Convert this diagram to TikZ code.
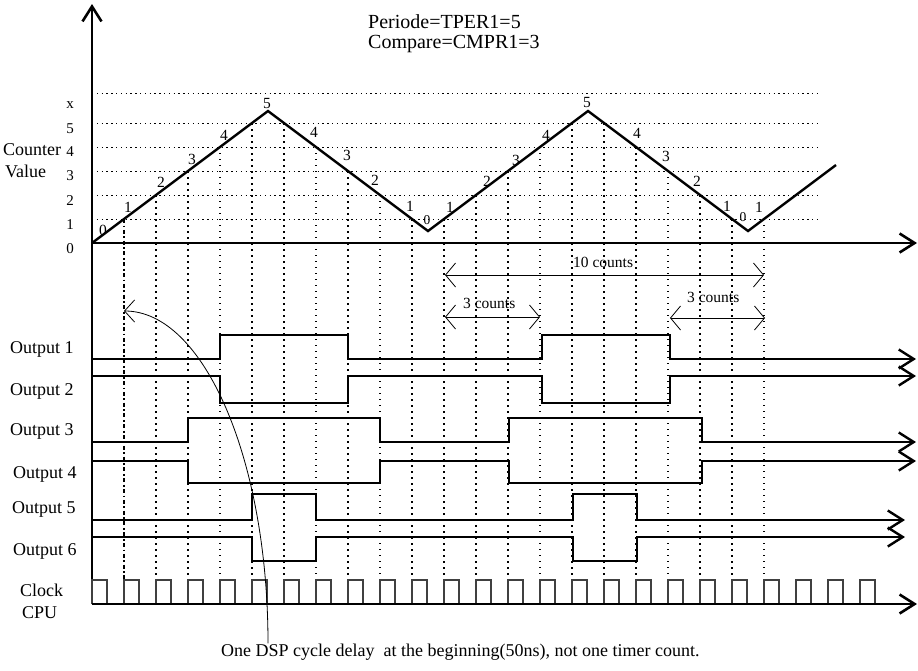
\documentclass[tikz,border=0pt]{standalone}
\usepackage{fontspec}
\setmainfont{Liberation Serif}
\usetikzlibrary{arrows.meta}

\begin{document}
\begin{tikzpicture}[
  x=1pt, y=-1pt,
  font=\fontsize{18}{21}\selectfont,
  lbl/.style={inner sep=0pt, anchor=base west},
  tick/.style={inner sep=0pt, anchor=base, font=\fontsize{15}{17}\selectfont},
  cnt/.style={inner sep=0pt, font=\fontsize{15.5}{17}\selectfont},
  axis/.style={line width=2.6pt, -{Straight Barb[length=15pt,width=19pt]}},
  wave/.style={line width=2.4pt, line join=miter},
  wavearr/.style={wave, -{Straight Barb[length=15pt,width=19pt]}},
  hgrid/.style={line width=1pt, dash pattern=on 1.3pt off 3.5pt},
  vgrid/.style={line width=2.1pt, dash pattern=on 2pt off 4pt},
  vthin/.style={line width=1.2pt, dash pattern=on 1.4pt off 4.6pt},
  vdash/.style={line width=1.8pt, dash pattern=on 4pt off 2.5pt on 1.8pt off 2.5pt},
  pulse/.style={line width=1.2pt, black!75},
  span/.style={line width=0.8pt, {Straight Barb[length=10pt,width=24pt]}-{Straight Barb[length=10pt,width=24pt]}},
  delay/.style={line width=0.8pt, -{Straight Barb[length=10pt,width=22pt]}}
]
\useasboundingbox (0,0) rectangle (918,670);

\node[lbl, font=\fontsize{20}{22}\selectfont] (per) at (368,28) {Periode=TPER1=5};
\node[lbl, font=\fontsize{20}{22}\selectfont] (cmpr) at ([yshift=-20pt]per.base west) {Compare=CMPR1=3};

% counter grid
\foreach \y in {93,123,147,171,195,219}
  \draw[hgrid] (92,\y) -- (818,\y);
\foreach \k/\s in {1/vdash,2/vgrid,3/vgrid,4/vthin,5/vgrid,6/vgrid,7/vthin,8/vgrid,9/vthin,10/vgrid,11/vgrid,
                   12/vgrid,13/vgrid,14/vthin,15/vgrid,16/vgrid,17/vgrid,18/vthin,19/vgrid,20/vgrid,21/vthin} {
  \pgfmathsetmacro\v{5.5-abs(mod(\k-0.5,10)-5)}
  \pgfmathsetmacro\e{\k==1 ? 596 : 580}
  \draw[\s] (92+32*\k,243-24*\v) -- (92+32*\k,\e);
}

\coordinate (O) at (92,243);
\draw[axis] (92,604) -- (92,4);
\draw[axis] (O) -- (917,243);
\draw[wave] (O) -- (268,111) -- (428,231) -- (588,111) -- (748,231) -- (836,165);

\node[lbl] (cntr) at (3,155) {Counter};
\node[lbl] (val) at (5,177) {Value};
\foreach \t/\y in {x/108,5/133,4/156,3/180,2/205,1/229,0/253}
  \node[tick] (tk\t) at (70,\y) {\t};

\foreach \x/\y/\t in {103/230/0,128/207/1,161/182/2,192/159/3,224/135/4,267/103/5,314/132/4,347/155/3,
                      375/180/2,410/206/1,450/207/1,487/181/2,516/160/3,546/135/4,587/102/5,637/133/4,
                      666/156/3,697/181/2,727/206/1,759/207/1}
  \node[cnt] at (\x,\y) {\t};
\node[cnt, font=\fontsize{13.5}{15}\selectfont] (zeroA) at (427,220) {0};
\node[cnt, font=\fontsize{13.5}{15}\selectfont] (zeroB) at (743,217) {0};

% counts
\coordinate (p1) at (445,275);
\coordinate (p2) at (764,275);
\coordinate (p3) at (445,317);
\coordinate (p4) at (540,317);
\coordinate (p5) at (670,318);
\coordinate (p6) at (765,318);
\draw[span] (p1) -- (p2);
\draw[span] (p3) -- (p4);
\draw[span] (p5) -- (p6);
\node[lbl, font=\fontsize{15.5}{17}\selectfont] (ten) at (573,267) {10 counts};
\node[lbl, font=\fontsize{15.5}{17}\selectfont] (threeA) at (463,308) {3 counts};
\node[lbl, font=\fontsize{15.5}{17}\selectfont] (threeB) at (687,302) {3 counts};

% outputs
\node[lbl] (out1) at (10,353) {Output 1};
\node[lbl] (out2) at (10,395) {Output 2};
\node[lbl] (out3) at (10,435) {Output 3};
\node[lbl] (out4) at (13,478) {Output 4};
\node[lbl] (out5) at (12,513) {Output 5};
\node[lbl] (out6) at (13,555) {Output 6};
\draw[wavearr] (92,359) -| (220,335) -| (348,359) -| (542,335) -| (670,359) -- (916,359);
\draw[wavearr] (92,376) -| (220,403) -| (348,376) -| (542,403) -| (670,376) -- (916,376);
\draw[wavearr] (92,442) -| (188,418) -| (380,442) -| (509,418) -| (702,442) -- (916,442);
\draw[wavearr] (92,461) -| (188,483) -| (380,461) -| (509,483) -| (702,461) -- (916,461);
\draw[wavearr] (92,520) -| (252,494) -| (316,520) -| (573,494) -| (637,520) -- (905,520);
\draw[wavearr] (92,537) -| (252,561) -| (316,537) -| (573,561) -| (637,537) -- (905,537);

% clock
\node[lbl] (clk) at (20,596) {Clock};
\node[lbl] (cpu) at (22,618) {CPU};
\foreach \k in {0,...,24}
  \draw[pulse] (92+32*\k,604) -- ++(0,-24) -- ++(15,0) -- ++(0,24);
\draw[axis] (92,604) -- (917,604);

\node[lbl] (note) at (221,656) {One DSP cycle delay\ \ at the beginning(50ns), not one timer count.};
\coordinate (late) at (124,311);
\draw[delay] ([xshift=47pt]note.north west) .. controls (268,460) and (204,311) .. (late);
\end{tikzpicture}
\end{document}
